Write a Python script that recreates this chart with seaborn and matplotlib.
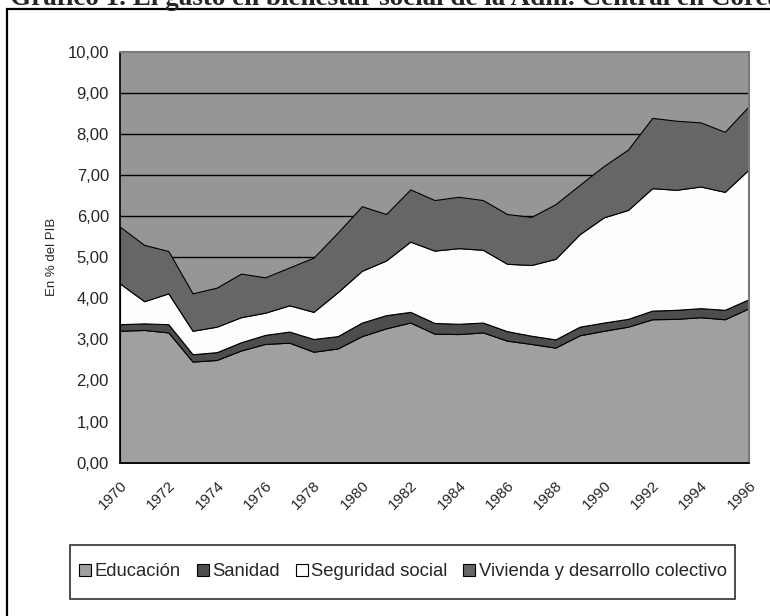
import matplotlib
matplotlib.use("Agg")
import matplotlib.pyplot as plt
from matplotlib.patches import Patch, Rectangle
from matplotlib.ticker import FuncFormatter, MultipleLocator
import seaborn as sns

# ---- data (en % del PIB) ----
years = list(range(1970, 1997))
educacion = [3.21, 3.23, 3.17, 2.46, 2.50, 2.73, 2.89, 2.92, 2.70, 2.78, 3.08, 3.27, 3.41, 3.14,
             3.13, 3.17, 2.97, 2.89, 2.80, 3.10, 3.21, 3.31, 3.49, 3.50, 3.54, 3.49, 3.76]
sanidad = [0.16, 0.16, 0.20, 0.18, 0.19, 0.20, 0.22, 0.27, 0.31, 0.30, 0.33, 0.32, 0.26, 0.26,
           0.25, 0.24, 0.23, 0.20, 0.20, 0.21, 0.20, 0.19, 0.21, 0.22, 0.22, 0.23, 0.22]
seguridad = [0.99, 0.54, 0.75, 0.57, 0.62, 0.61, 0.54, 0.64, 0.66, 1.07, 1.26, 1.33, 1.71, 1.76,
             1.84, 1.77, 1.64, 1.72, 1.96, 2.25, 2.56, 2.65, 2.98, 2.92, 2.96, 2.87, 3.16]
vivienda = [1.38, 1.37, 1.03, 0.91, 0.95, 1.06, 0.86, 0.92, 1.32, 1.45, 1.57, 1.13, 1.27, 1.23,
            1.25, 1.21, 1.21, 1.17, 1.33, 1.20, 1.25, 1.47, 1.71, 1.68, 1.56, 1.46, 1.54]
series_names = ["Educación", "Sanidad", "Seguridad social", "Vivienda y desarrollo colectivo"]
colors = ["#a0a0a0", "#4d4d4d", "#fdfdfd", "#666666"]

sns.set_style("white")
plt.rcParams['font.family'] = ['Liberation Sans', 'DejaVu Sans']

W, H = 770, 616
fig = plt.figure(figsize=(W / 100, H / 100), dpi=100)

# outer frame and the title (cut at the top, as in the source)
fig.patches.append(Rectangle((7 / W, -0.05), 1.2, 1 - 9 / H + 0.05, transform=fig.transFigure,
                             fill=False, edgecolor="black", linewidth=1.6))
fig.text(10 / W, 1 - 5 / H, "Gráfico 1. El gasto en bienestar social de la Adm. Central en Corea",
         family="Liberation Serif", weight="bold", fontsize=19.5, va="baseline", ha="left")

ax = fig.add_axes([120 / W, 1 - 462.7 / H, 629 / W, 411 / H])
ax.set_facecolor("#969696")

for y in range(1, 10):
    ax.axhline(y, color="black", linewidth=1, zorder=1)

ax.stackplot(years, educacion, sanidad, seguridad, vivienda, colors=colors,
             edgecolor="black", linewidth=0.8, zorder=2)

ax.set_xlim(1970, 1996)
ax.set_ylim(0, 10)
ax.yaxis.set_major_locator(MultipleLocator(1))
ax.yaxis.set_major_formatter(FuncFormatter(lambda v, p: f"{v:.2f}".replace(".", ",")))
ax.set_xticks(years)
ax.set_xticklabels([str(y) if (y - 1970) % 2 == 0 else "" for y in years],
                   rotation=45, ha="right", rotation_mode="anchor")
ax.tick_params(axis="both", direction="out", length=5, width=1, color="black",
               labelsize=11, pad=3)
ax.tick_params(axis="y", labelsize=12)
ax.tick_params(axis="x", pad=6)

for side in ["left", "bottom"]:
    ax.spines[side].set_color("black")
    ax.spines[side].set_linewidth(1.2)
for side in ["top", "right"]:
    ax.spines[side].set_color("#7a7a7a")
    ax.spines[side].set_linewidth(1.5)

ax.set_ylabel("En % del PIB", fontsize=9.5, labelpad=7)

# legend
fig.patches.append(Rectangle((70 / W, 1 - 599 / H), 665 / W, 54 / H, transform=fig.transFigure,
                             fill=False, edgecolor="#303030", linewidth=1.2))
handles = [Patch(facecolor=c, edgecolor="black", linewidth=0.8) for c in colors]
fig.legend(handles, series_names, loc="center", bbox_to_anchor=(403 / W, 1 - 572 / H),
           ncol=4, frameon=False, fontsize=13.3, handlelength=0.65, handleheight=0.65,
           handletextpad=0.2, columnspacing=0.85, borderpad=0.2)

fig.savefig("out.png", dpi=100)
